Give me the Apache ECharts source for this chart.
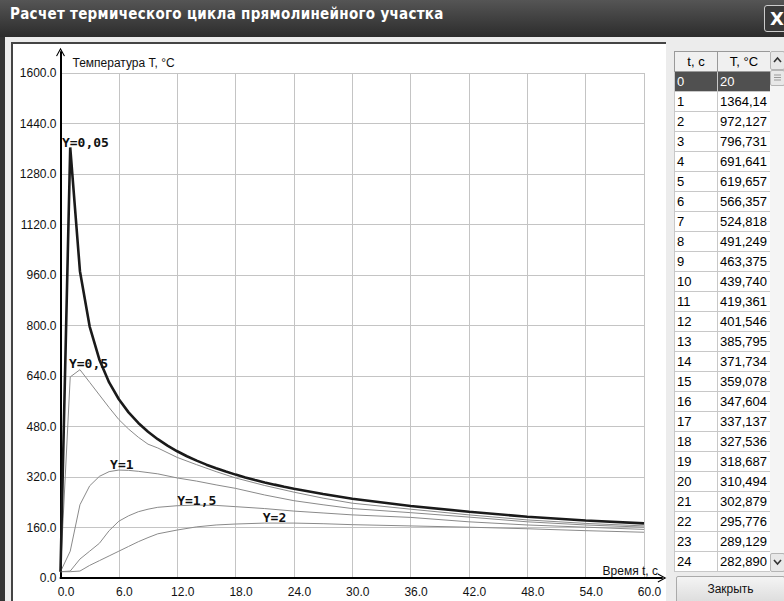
<!DOCTYPE html>
<html><head><meta charset="utf-8">
<script src="https://cdn.jsdelivr.net/npm/echarts@6/dist/echarts.min.js"></script>
<style>
html,body{margin:0;padding:0;width:784px;height:601px;overflow:hidden;background:#fff;font-family:"Liberation Sans",Arial,sans-serif;}
#win{position:absolute;left:0;top:0;width:784px;height:601px;background:#ececec;}
#titlebar{position:absolute;left:0;top:0;width:784px;height:37px;background:linear-gradient(#555,#2c2c2c);}
#title{position:absolute;left:10px;top:5px;color:#fff;font:bold 15px "DejaVu Sans Condensed","DejaVu Sans",sans-serif;letter-spacing:0.3px;white-space:nowrap;}
#close{position:absolute;left:764px;top:5px;width:24px;height:25px;border:1px solid #ccc;border-radius:3px;background:#3a3a3a;color:#fff;font:bold 18px "DejaVu Sans",sans-serif;line-height:25px;text-align:center;}
#lframe{position:absolute;left:0;top:37px;width:5px;height:564px;background:#333;}
#panel{position:absolute;left:11px;top:42px;width:653px;height:559px;background:#fff;border-top:2px solid #444;border-left:2px solid #444;}
#chart{position:absolute;left:0;top:0;width:784px;height:601px;}
#tbl{position:absolute;left:674px;top:51px;border-collapse:collapse;font:13px "Liberation Sans",Arial,sans-serif;background:#fff;border:1px solid #555;table-layout:fixed;}
#tbl td,#tbl th{height:19px;padding:0 0 0 2px;border:1px solid #c8c8c8;text-align:left;font-weight:normal;white-space:nowrap;overflow:hidden;}
#tbl th{background:#f0f0f0;text-align:center;border-color:#999;padding:0;}
#tbl tr.sel td{background:#505050;color:#fff;}
#scroll{position:absolute;left:770px;top:51px;width:14px;height:521px;background:#f4f4f4;}
.sb{position:absolute;left:0;width:13px;height:17px;background:#e8e8e8;border:1px solid #b5b5b5;border-radius:2px;}
.sb svg{position:absolute;left:2px;top:4px;}
#btn{position:absolute;left:676px;top:576px;width:107px;height:26px;background:linear-gradient(#f4f4f4,#dcdcdc);border:1px solid #aaa;border-radius:2px;font:12px "Liberation Sans",Arial,sans-serif;text-align:center;line-height:25px;color:#111;}
</style></head>
<body>
<div id="win">
  <div id="titlebar"><div id="title">Расчет термического цикла прямолинейного участка</div><div id="close">X</div></div>
  <div id="lframe"></div>
  <div id="panel"></div>
  <div id="chart"></div>
  <table id="tbl"></table>
  <div id="scroll">
    <div class="sb" style="top:0"><svg width="9" height="8"><path d="M1,6 L4.5,2 L8,6" fill="none" stroke="#333" stroke-width="1.6"/></svg></div>
    <div class="sb" style="top:19px;height:14px"><svg width="9" height="7" style="top:3px"><path d="M1,1H8M1,3.5H8M1,6H8" stroke="#999" stroke-width="1"/></svg></div>
    <div class="sb" style="top:502px"><svg width="9" height="8"><path d="M1,2 L4.5,6 L8,2" fill="none" stroke="#333" stroke-width="1.6"/></svg></div>
  </div>
  <div id="btn">Закрыть</div>
</div>
<script>
// ---- table (as shown, Y = 0,05)
const tableTime = [0,1,2,3,4,5,6,7,8,9,10,11,12,13,14,15,16,17,18,19,20,21,22,23,24];
const tableTemp = ["20","1364,14","972,127","796,731","691,641","619,657","566,357","524,818","491,249","463,375","439,740","419,361","401,546","385,795","371,734","359,078","347,604","337,137","327,536","318,687","310,494","302,879","295,776","289,129","282,890"];
const tableHeader = ["t, c","T, °C"];

// ---- curves
const tThickTail = [27,30,36,42,48,54,60];
const tempThickTail = [266,251,228,210,194,182,173];
const tThin = [0,1,2,3,4,5,6,7,8,9,10,12,14,16,18,21,24,27,30,36,42,48,54,60];
const tempY05 = [20,637,660,620,580,540,502,472,446,424,412,382,359,337,317,293,272,253,237,218,200,184,173,165];
const tempY1  = [20,85,232,292,322,337,342,341,338,334,330,317,307,295,284,263,245,232,220,207,193,178,168,161];
const tempY15 = [20,22,60,85,110,150,180,197,210,218,224,229,231,230,226,220,212,206,200,192,178,168,161,154];
const tempY2  = [20,20,22,40,55,70,85,100,115,128,140,152,162,168,171,174,174,172,169,165,161,156,150,145];
const curveNames = ["Y=0,05","Y=0,5","Y=1","Y=1,5","Y=2"];
const labelAt = [[0.15,1381],[0.87,681],[5.1,361],[12.0,247],[20.8,193]];
const xTicks = {min:0,max:60,step:6};
const yTicks = {min:0,max:1600,step:160};

// build table
(function(){
  const tb = document.getElementById('tbl');
  let h = '<colgroup><col style="width:43px"><col style="width:53px"></colgroup>';
  h += '<tr><th>'+tableHeader[0]+'</th><th>'+tableHeader[1]+'</th></tr>';
  tableTime.forEach((t,i)=>{
    h += '<tr'+(i===0?' class="sel"':'')+'><td>'+t+'</td><td>'+tableTemp[i]+'</td></tr>';
  });
  tb.innerHTML = h;
})();

const tThick = tableTime.concat(tThickTail);
const tempThick = tableTemp.map(s=>parseFloat(s.replace(',','.'))).concat(tempThickTail);
const pairs = (xs,ys)=>xs.map((x,i)=>[x,ys[i]]);

const thinStyle = {color:'#8a8a8a', width:1};
const lblStyle = {show:true, position:'right', distance:0, color:'#111', fontFamily:'DejaVu Sans Mono', fontWeight:'bold', fontSize:13};
function mk(i){
  return {symbol:'circle', symbolSize:0, silent:true, animation:false,
    data:[{coord:labelAt[i]}],
    label:Object.assign({formatter:curveNames[i]}, lblStyle)};
}
const chart = echarts.init(document.getElementById('chart'), null, {renderer:'svg'});
const chevron = 'path://M0,0 L6,11 L4.6,11.6 L0,3 L-4.6,11.6 L-6,11 Z';
chart.setOption({
  animation:false,
  backgroundColor:'transparent',
  grid:[{left:60.5,right:140,top:73,bottom:23},{left:60.5,right:122,top:52,bottom:23}],
  xAxis:[
    {type:'value',gridIndex:0,min:xTicks.min,max:xTicks.max,interval:xTicks.step,
     axisLine:{show:false},axisTick:{show:false},
     splitLine:{show:true,lineStyle:{color:'#c4c4c4',width:1}},
     axisLabel:{formatter:v=>v.toFixed(1),color:'#111',fontSize:12,fontFamily:'Liberation Sans',margin:8,padding:[0,0,0,11]},
     name:'Время t, c',nameLocation:'end',nameGap:14,
     nameTextStyle:{align:'right',verticalAlign:'bottom',color:'#111',fontSize:12,fontFamily:'Liberation Sans',padding:[0,0,1,0]}},
    {type:'value',gridIndex:1,min:0,max:1,axisLine:{show:true,symbol:['none',chevron],symbolSize:[9,11],lineStyle:{color:'#000',width:2}},
     axisTick:{show:false},axisLabel:{show:false},splitLine:{show:false}}
  ],
  yAxis:[
    {type:'value',gridIndex:0,min:yTicks.min,max:yTicks.max,interval:yTicks.step,
     axisLine:{show:false},axisTick:{show:false},
     splitLine:{show:true,lineStyle:{color:'#c4c4c4',width:1}},
     axisLabel:{formatter:v=>v.toFixed(1),color:'#111',fontSize:12,fontFamily:'Liberation Sans',margin:4},
     name:'Температура T, °C',nameLocation:'end',nameGap:10,
     nameTextStyle:{align:'left',verticalAlign:'middle',color:'#111',fontSize:12,fontFamily:'Liberation Sans',padding:[0,0,0,12]}},
    {type:'value',gridIndex:1,min:0,max:1,axisLine:{show:true,symbol:['none',chevron],symbolSize:[9,11],lineStyle:{color:'#000',width:2}},
     axisTick:{show:false},axisLabel:{show:false},splitLine:{show:false}}
  ],
  series:[
    {type:'line',name:curveNames[4],data:pairs(tThin,tempY2),showSymbol:false,lineStyle:thinStyle,markPoint:mk(4)},
    {type:'line',name:curveNames[3],data:pairs(tThin,tempY15),showSymbol:false,lineStyle:thinStyle,markPoint:mk(3)},
    {type:'line',name:curveNames[2],data:pairs(tThin,tempY1),showSymbol:false,lineStyle:thinStyle,markPoint:mk(2)},
    {type:'line',name:curveNames[1],data:pairs(tThin,tempY05),showSymbol:false,lineStyle:thinStyle,markPoint:mk(1)},
    {type:'line',name:curveNames[0],data:pairs(tThick,tempThick),showSymbol:false,lineStyle:{color:'#1a1a1a',width:2.6},markPoint:mk(0)}
  ]
});
</script>
</body></html>
